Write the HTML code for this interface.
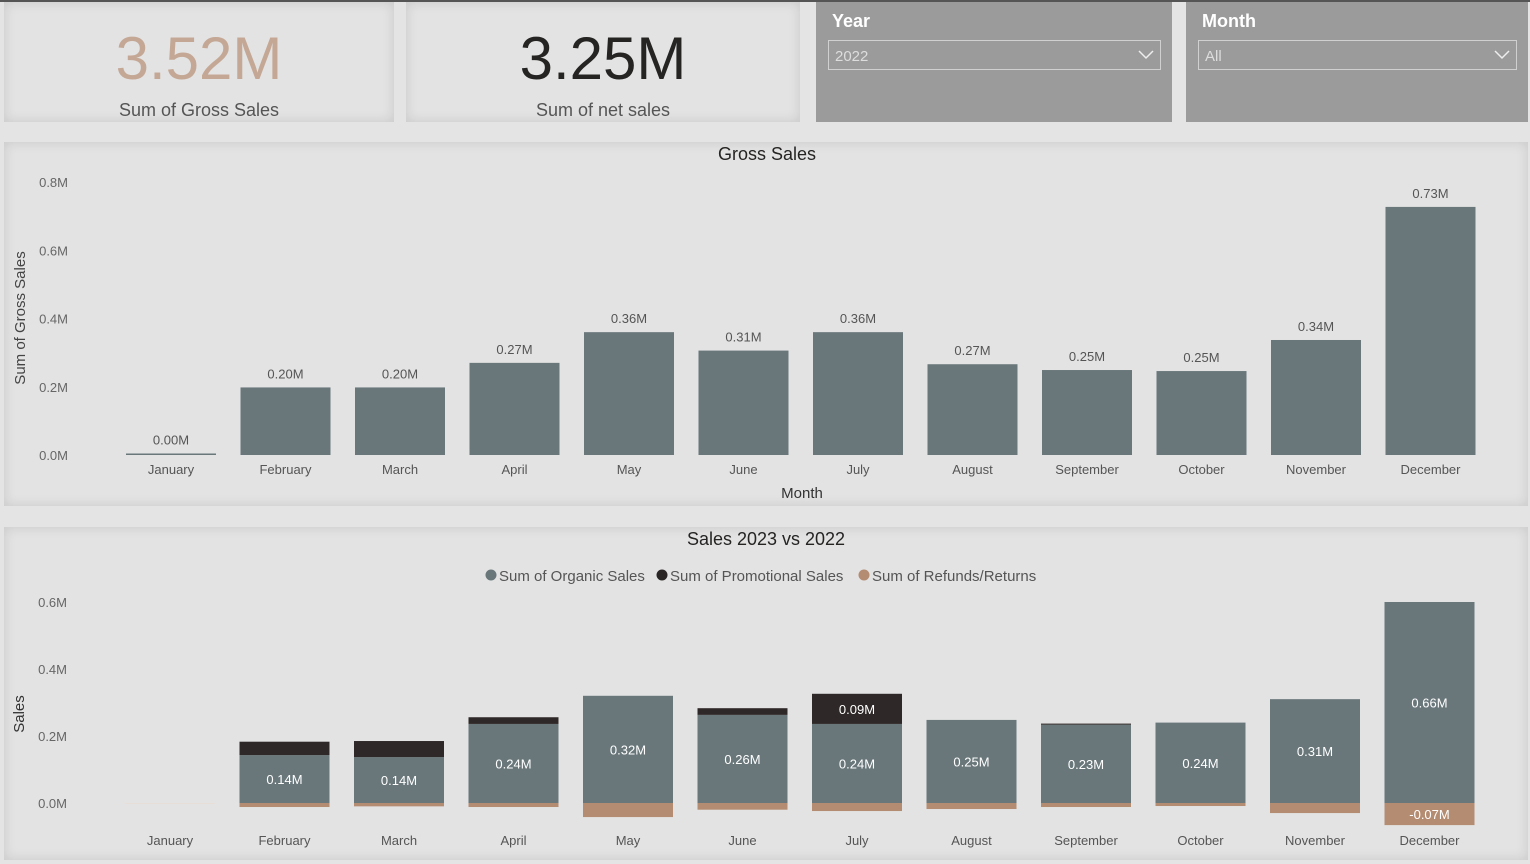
<!DOCTYPE html>
<html><head><meta charset="utf-8"><style>
body{margin:0;width:1530px;height:864px;background:#e4e4e4;font-family:"Liberation Sans",sans-serif;position:relative;overflow:hidden}
.abs{position:absolute}
.card{background:#e3e3e3;box-shadow:inset 0 0 12px rgba(0,0,0,0.12)}
.big{font-family:"Liberation Sans Narrow","Liberation Sans",sans-serif;font-size:60px;width:100%;text-align:center;top:22px}
.sub{font-family:"Liberation Sans Narrow","Liberation Sans",sans-serif;font-size:18px;color:#555;width:100%;text-align:center;top:98px}
.slicer{background:#9b9b9b}
.sl-title{color:#fff;font-size:18px;font-weight:bold;left:16px;top:9px}
.dd{border:1px solid #d0d0d0;height:30px;top:38px;left:12px;color:#ddd;font-size:15px;line-height:32px;padding-left:6px;box-sizing:border-box}
svg text{font-family:"Liberation Sans",sans-serif}
</style></head><body>
<div class="abs" style="left:0;top:0;width:1530px;height:2px;background:#555"></div>
<div class="abs card" style="left:4px;top:2px;width:390px;height:120px">
 <div class="abs big" style="color:#c4a895">3.52M</div>
 <div class="abs sub">Sum of Gross Sales</div>
</div>
<div class="abs card" style="left:406px;top:2px;width:394px;height:120px">
 <div class="abs big" style="color:#252423">3.25M</div>
 <div class="abs sub">Sum of net sales</div>
</div>
<div class="abs slicer" style="left:816px;top:2px;width:356px;height:120px">
 <div class="abs sl-title">Year</div>
 <div class="abs dd" style="width:333px">2022
  <svg class="abs" style="right:6px;top:9px" width="16" height="10"><polyline points="1,1 8,8 15,1" fill="none" stroke="#eee" stroke-width="1.5"/></svg></div>
</div>
<div class="abs slicer" style="left:1186px;top:2px;width:342px;height:120px">
 <div class="abs sl-title">Month</div>
 <div class="abs dd" style="width:319px">All
  <svg class="abs" style="right:6px;top:9px" width="16" height="10"><polyline points="1,1 8,8 15,1" fill="none" stroke="#eee" stroke-width="1.5"/></svg></div>
</div>
<div class="abs card" style="left:4px;top:142px;width:1524px;height:364px"></div>
<div class="abs card" style="left:4px;top:527px;width:1524px;height:333px"></div>
<svg class="abs" style="left:0;top:0" width="1530" height="864" id="charts"></svg>
<script>
const months=["January","February","March","April","May","June","July","August","September","October","November","December"];
const grossValues=[0.002,0.198,0.198,0.27,0.36,0.306,0.36,0.266,0.249,0.246,0.337,0.727];
const grossTicks=[0,0.2,0.4,0.6,0.8];
const organic=[0,0.143,0.137,0.236,0.32,0.263,0.236,0.248,0.234,0.24,0.31,0.66];
const promo=[0,0.04,0.048,0.02,0,0.02,0.09,0,0.003,0,0,0];
const refunds=[0,-0.012,-0.01,-0.012,-0.042,-0.02,-0.024,-0.018,-0.012,-0.009,-0.03,-0.066];
const salesTicks=[0,0.2,0.4,0.6];
const NS="http://www.w3.org/2000/svg";
const svg=document.getElementById('charts');
function mk(tag,attrs,txt){const e=document.createElementNS(NS,tag);for(const k in attrs)e.setAttribute(k,attrs[k]);if(txt!==undefined)e.textContent=txt;svg.appendChild(e);return e;}
function fmt(v){return v.toFixed(2)+"M";}
// Gross chart
const gx=i=>171+i*114.5, gy=v=>455-v*341.25;
let t=mk('text',{x:767,y:160,'text-anchor':'middle','font-size':18,fill:'#252423'},'Gross Sales');


grossTicks.forEach(v=>{let e=mk('text',{x:68,y:gy(v)+5,'text-anchor':'end','font-size':13,fill:'#666'},v.toFixed(1)+"M");

});
t=mk('text',{x:0,y:0,transform:'translate(25,318) rotate(-90)','text-anchor':'middle','font-size':15,fill:'#444'},'Sum of Gross Sales');


t=mk('text',{x:802,y:498,'text-anchor':'middle','font-size':15,fill:'#333'},'Month');


grossValues.forEach((v,i)=>{
 const y=gy(v),h=Math.max(1.5,455-y);
 let r=mk('rect',{x:gx(i)-45,y:455-h,width:90,height:h,fill:'#69777b'});
 
 
 let l=mk('text',{x:gx(i),y:455-h-9,'text-anchor':'middle','font-size':13,fill:'#555'},fmt(v));
 
 
 let m=mk('text',{x:gx(i),y:474,'text-anchor':'middle','font-size':13,fill:'#555'},months[i]);
 
 
});
// Sales chart
const sx=i=>170+i*114.5, sy=v=>803-v*335, yTop=sy(0.6);
t=mk('text',{x:766,y:545,'text-anchor':'middle','font-size':18,fill:'#252423'},'Sales 2023 vs 2022');


[["Sum of Organic Sales","#69777b",485],["Sum of Promotional Sales","#2b2626",656],["Sum of Refunds/Returns","#b48c72",858]].forEach(d=>{
 let c=mk('circle',{cx:d[2]+6,cy:575,r:5.5,fill:d[1]});
 
 
 let e=mk('text',{x:d[2]+14,y:581,'font-size':15,fill:'#555'},d[0]);
 
 
});
salesTicks.forEach(v=>{let e=mk('text',{x:67,y:sy(v)+5,'text-anchor':'end','font-size':13,fill:'#666'},v.toFixed(1)+"M");

});
t=mk('text',{x:0,y:0,transform:'translate(24,714) rotate(-90)','text-anchor':'middle','font-size':15,fill:'#333'},'Sales');


months.forEach((mo,i)=>{
 const x=sx(i)-45;
 const oTop=Math.max(yTop,sy(organic[i]));
 let r=mk('rect',{x:x,y:oTop,width:90,height:Math.max(0.8,803-oTop),fill:organic[i]>0?'#69777b':'#e8dcd4'});
 
 
 if(promo[i]>0){const pTop=Math.max(yTop,sy(organic[i]+promo[i]));
  let p=mk('rect',{x:x,y:pTop,width:90,height:oTop-pTop,fill:'#2f2828'});
  
  
  if(promo[i]>=0.07){let pl=mk('text',{x:sx(i),y:(pTop+oTop)/2+5,'text-anchor':'middle','font-size':13,fill:'#fff'},fmt(promo[i]));
   
   }}
 if(refunds[i]<0){let f=mk('rect',{x:x,y:803,width:90,height:sy(refunds[i])-803,fill:'#b48c72'});
  
  
  if(refunds[i]<=-0.05){let fl=mk('text',{x:sx(i),y:(803+sy(refunds[i]))/2+5,'text-anchor':'middle','font-size':13,fill:'#fff'},fmt(refunds[i]));
   
   }}
 if(organic[i]>0){let ol=mk('text',{x:sx(i),y:(oTop+803)/2+5,'text-anchor':'middle','font-size':13,fill:'#fff'},fmt(organic[i]));
  
  }
 let m=mk('text',{x:sx(i),y:845,'text-anchor':'middle','font-size':13,fill:'#555'},mo);
 
 
});
</script>
</body></html>
